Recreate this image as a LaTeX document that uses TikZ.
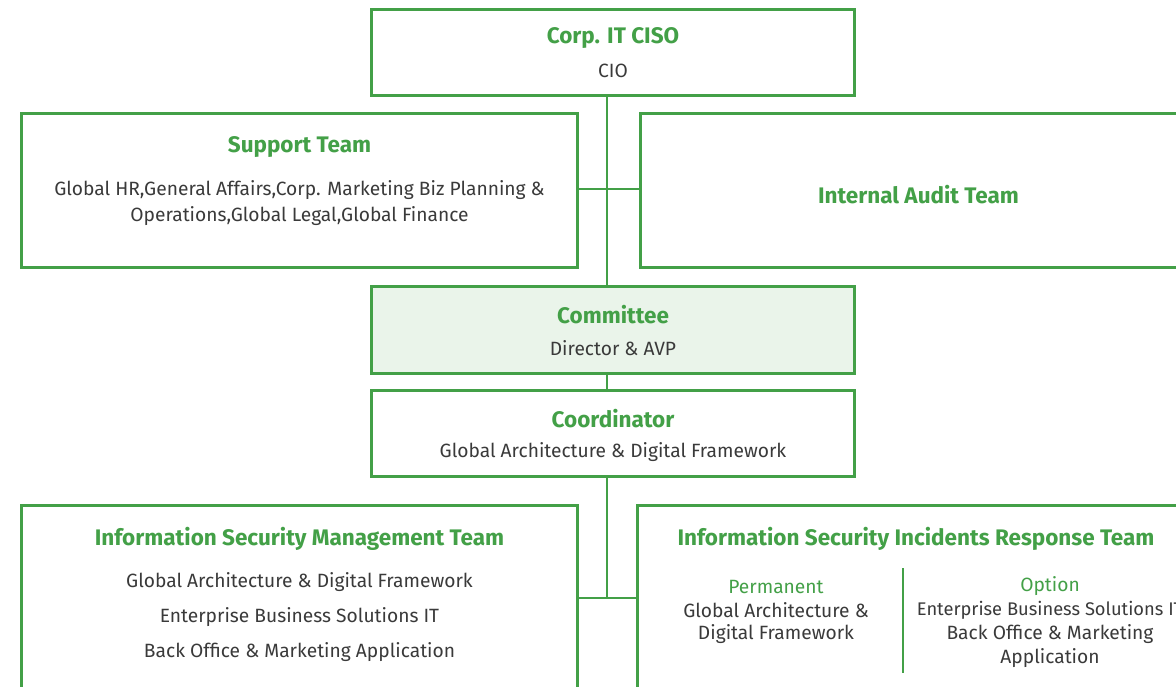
\documentclass[tikz,border=0pt]{standalone}
\usepackage{fontspec}
\setmainfont{Fira Sans}
\definecolor{grn}{HTML}{43A047}
\definecolor{lgrn}{HTML}{EAF4EA}
\definecolor{txt}{HTML}{3A3A3A}
\tikzset{
  box/.style={draw=grn, line width=3pt, fill=white, inner sep=0pt},
  ttl/.style={text=grn, font=\fontsize{22.5}{26}\selectfont\bfseries, inner sep=0pt, anchor=center},
  bdy/.style={text=txt, font=\fontsize{19.2}{26}\selectfont, inner sep=0pt, anchor=center, align=center},
  sub/.style={text=grn, font=\fontsize{19.2}{24}\selectfont, inner sep=0pt, anchor=center},
  conn/.style={draw=grn, line width=1.2pt},
}
\begin{document}
\begin{tikzpicture}[x=1pt,y=-1pt]
\useasboundingbox (0,0) rectangle (1176,686);
\clip (0,0) rectangle (1176,686);
% boxes
\node[box, minimum width=483pt, minimum height=86pt] (ciso) at (613,52.5) {};
\node[box, minimum width=556pt, minimum height=154pt] (support) at (299.5,190.5) {};
\node[box, minimum width=556pt, minimum height=154pt] (audit) at (918.5,190.5) {};
\node[box, fill=lgrn, minimum width=483pt, minimum height=87pt] (committee) at (613,330) {};
\node[box, minimum width=483pt, minimum height=86pt] (coord) at (613,433.5) {};
\node[box, minimum width=556pt, minimum height=200pt] (ismt) at (299.5,605.5) {};
\node[box, minimum width=556pt, minimum height=200pt] (isirt) at (915.5,605.5) {};
% connectors
\coordinate (t1) at (607,598);
\coordinate (t0) at (607,189);
\draw[conn] (t1 |- ciso.south) -- (t1 |- committee.north);
\draw[conn] (t1 |- committee.south) -- (t1 |- coord.north);
\draw[conn] (t1 |- coord.south) -- (t1);
\draw[conn] (t0 -| support.east) -- (t0 -| audit.west);
\draw[conn] (t1 -| ismt.east) -- (t1 -| isirt.west);
% texts
\node[ttl] (cisoT) at (613,38) {Corp. IT CISO};
\node[bdy] (cisoB) at (613,71) {CIO};
\node[ttl] (supT) at (299.5,147) {Support Team};
\node[bdy] (supB1) at (299.5,190.5) {Global HR,General Affairs,Corp. Marketing Biz Planning \&};
\node[bdy] (supB2) at (299.5,216.5) {Operations,Global Legal,Global Finance};
\node[ttl] (audT) at (918.5,195) {Internal Audit Team};
\node[ttl] (comT) at (613,315) {Committee};
\node[bdy] (comB) at (613,348.5) {Director \& AVP};
\node[ttl] (coT) at (613,419) {Coordinator};
\node[bdy] (coB) at (613,452.5) {Global Architecture \& Digital Framework};
\node[ttl] (ismtT) at (299.5,539) {Information Security Management Team};
\node[bdy] (ismtB1) at (299.5,582.5) {Global Architecture \& Digital Framework};
\node[bdy] (ismtB2) at (299.5,617.5) {Enterprise Business Solutions IT};
\node[bdy] (ismtB3) at (299.5,652.5) {Back Office \& Marketing Application};
\node[ttl] (isirtT) at (916,539) {Information Security Incidents Response Team};
\coordinate (dv) at (903,568);
\draw[draw=grn, line width=1.2pt] (dv) -- ++(0,105);
\node[sub] (perm) at (776,586.5) {Permanent};
\node[bdy] (permB1) at (776,610.5) {Global Architecture \&};
\node[bdy] (permB2) at (776,634.5) {Digital Framework};
\node[sub] (opt) at (1050,586.5) {Option};
\node[bdy, font=\fontsize{18.3}{26}\selectfont] (optB1) at (1050,610.5) {Enterprise Business Solutions IT};
\node[bdy] (optB2) at (1050,634.5) {Back Office \& Marketing};
\node[bdy] (optB3) at (1050,658.5) {Application};
\end{tikzpicture}
\end{document}
